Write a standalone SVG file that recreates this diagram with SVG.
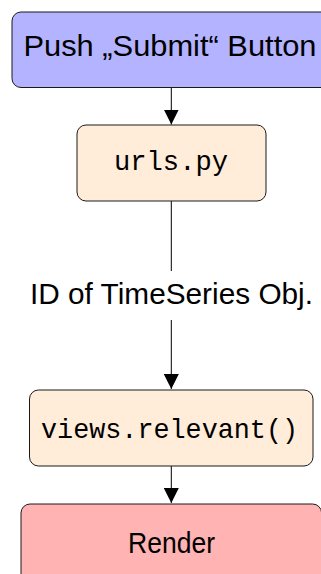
<svg xmlns="http://www.w3.org/2000/svg" width="321" height="574" viewBox="0 0 321 574">
  <style>
    .box { stroke: #1a1a1a; stroke-width: 1; }
    .blue { fill: #b3b3ff; }
    .orange { fill: #ffecd9; }
    .red { fill: #ffb3b3; }
    .sans { font-family: "Liberation Sans", Arial, sans-serif; font-size: 30px; fill: #000; }
    .mono { font-family: "Liberation Mono", "Courier New", monospace; font-size: 28px; fill: #000; }
    .edge { stroke: #000; stroke-width: 1; fill: none; }
    .head { fill: #000; }
  </style>
  <defs>
    <marker id="arrow" markerWidth="15" markerHeight="15" refX="15" refY="7.5" orient="auto" markerUnits="userSpaceOnUse">
      <path class="head" d="M0,0 L15,7.5 L0,15 Z"/>
    </marker>
  </defs>

  <g id="connectors">
    <line class="edge" x1="171.3" y1="87.5" x2="171.3" y2="124.5" marker-end="url(#arrow)"/>
    <line class="edge" x1="171.3" y1="201" x2="171.3" y2="389" marker-end="url(#arrow)"/>
    <rect x="25" y="271" width="292" height="49" fill="#fff"/>
    <text class="sans" x="30" y="304" textLength="283" lengthAdjust="spacingAndGlyphs">ID of TimeSeries Obj.</text>
    <line class="edge" x1="171.3" y1="466" x2="171.3" y2="503" marker-end="url(#arrow)"/>
  </g>

  <g id="submit">
    <rect class="box blue" x="12" y="12" width="318.6" height="75.5" rx="9"/>
    <text class="sans" x="23.5" y="56" textLength="293" lengthAdjust="spacingAndGlyphs">Push „Submit“ Button</text>
  </g>

  <g id="urls">
    <rect class="box orange" x="77" y="125" width="189" height="76" rx="9"/>
    <text class="mono" x="114" y="170" textLength="114" lengthAdjust="spacingAndGlyphs">urls.py</text>
  </g>

  <g id="views">
    <rect class="box orange" x="29.5" y="390" width="283.5" height="76" rx="9"/>
    <text class="mono" x="41" y="438.3" textLength="257" lengthAdjust="spacingAndGlyphs">views.relevant()</text>
  </g>

  <g id="render">
    <rect class="box red" x="21" y="504" width="300.6" height="90" rx="9"/>
    <text class="sans" x="128" y="553" textLength="87" lengthAdjust="spacingAndGlyphs">Render</text>
  </g>
</svg>
